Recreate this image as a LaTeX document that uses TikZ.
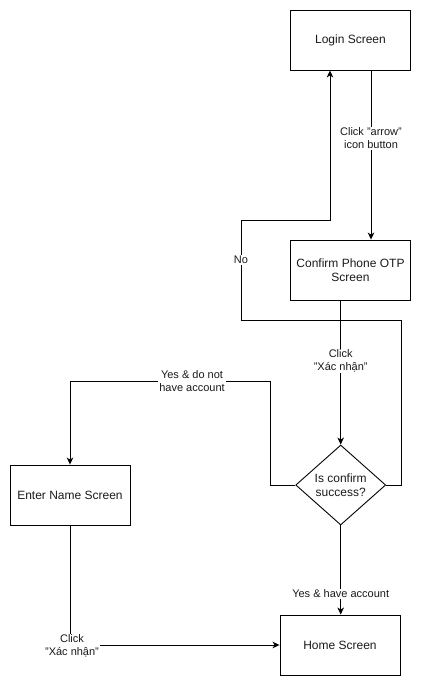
\documentclass[tikz,border=0pt]{standalone}
\usepackage{fontspec}
\setmainfont{Liberation Sans}
\usetikzlibrary{shapes.geometric,arrows.meta}
\definecolor{ink}{HTML}{1A1A1A}
\begin{document}
\begin{tikzpicture}[x=1pt,y=-1pt,
  every node/.style={text=ink},
  screen/.style={draw=black,line width=0.9pt,minimum width=120pt,minimum height=60pt,
    align=center,font=\fontsize{12}{14}\selectfont,inner sep=2pt},
  decision/.style={draw=black,line width=0.9pt,shape=diamond,minimum width=90pt,
    minimum height=80pt,inner sep=0pt,align=center,font=\fontsize{12}{14}\selectfont},
  flow/.style={draw=black,line width=0.9pt,-{Stealth[length=7pt,width=6.5pt,inset=2pt]}},
  lbl/.style={fill=white,inner sep=1pt,align=center,font=\fontsize{11}{13}\selectfont}]
\useasboundingbox (0,0) rectangle (421,686);

% screens and the decision
\node[screen] (login) at (350.5,40) {Login Screen};
\node[screen] (otp) at (350.5,270) {Confirm Phone OTP\\Screen};
\node[decision] (check) at (340.7,485) {Is confirm\\success?};
\node[screen] (name) at (70,495) {Enter Name Screen};
\node[screen] (home) at (340,645) {Home Screen};

% bend points of the routed connectors
\coordinate (noR) at (401,485);
\coordinate (noRT) at (401,320);
\coordinate (noLB) at (241,320);
\coordinate (noLT) at (241,220);
\coordinate (noUp) at (330,220);
\coordinate (yesA) at (270,485);
\coordinate (yesB) at (270,381);
\coordinate (yesC) at (70,381);
\coordinate (nameTurn) at (70,645);

% login -> OTP
\draw[flow] ([xshift=20.5pt]login.south) -- node[lbl,pos=0.4] {Click "arrow"\\icon button} ([xshift=20.5pt]otp.north);

% OTP -> decision
\draw[flow] (check.north |- otp.south) -- node[lbl,pos=0.42] {Click\\"Xác nhận"} (check.north);

% failed confirmation loops back to login
\draw[flow] (check.east) -- (noR) -- (noRT) -- (noLB) -- node[lbl,pos=0.6] {No} (noLT) -- (noUp) -- (noUp |- login.south);

% new user -> enter name
\draw[flow] (check.west) -- (yesA) -- (yesB) -- node[lbl,pos=0.39] {Yes \& do not\\have account} (yesC) -- (name.north);

% existing user -> home
\draw[flow] (check.south) -- node[lbl,pos=0.77] {Yes \& have account} (check.south |- home.north);

% enter name -> home
\draw[flow] (name.south) -- (nameTurn) -- (home.west);
\node[lbl] (nameLbl) at (72,646) {Click\\"Xác nhận"};
\end{tikzpicture}
\end{document}
